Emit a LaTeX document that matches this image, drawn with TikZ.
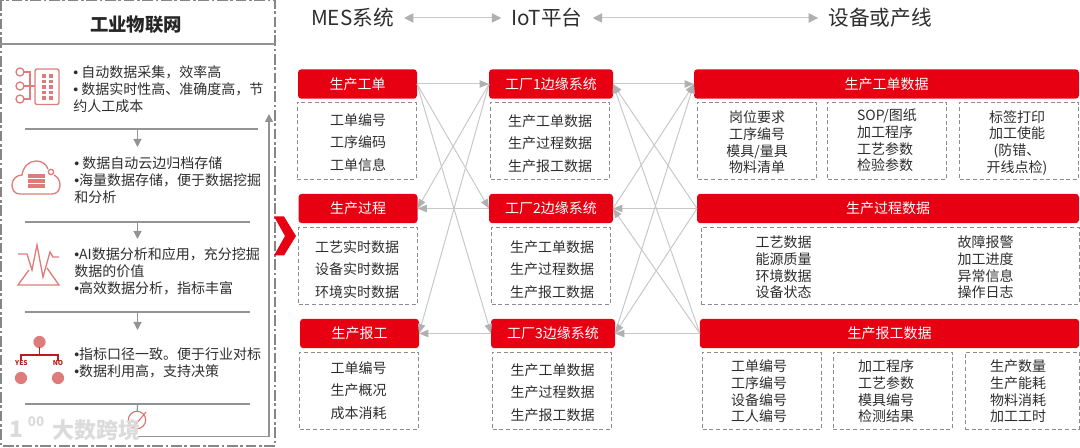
\documentclass[tikz,border=0pt]{standalone}
\usepackage{xcolor}
\usepackage{fontspec}
\setmainfont{Noto Sans CJK SC}
\newfontfamily\bulletfont{Liberation Sans}
\newcommand{\dotmark}{{\bulletfont •}}
\usepackage{tikz}
\usetikzlibrary{arrows.meta,positioning,calc}
\definecolor{headred}{HTML}{E60012}
\definecolor{iconred}{HTML}{DE7C7C}
\definecolor{treered}{HTML}{B81C1C}
\definecolor{linkgray}{HTML}{C8C8C8}
\definecolor{tipgray}{HTML}{B0B0B0}
\definecolor{inkgray}{HTML}{2E2E2E}
\begin{document}
\begin{tikzpicture}[
    x=0.75pt, y=-0.75pt,
    top label/.style={font=\fontsize{15.5}{18}\selectfont, text=inkgray, inner xsep=7.5pt, inner ysep=0pt},
    top arrow/.style={{Triangle[length=7pt,width=7pt,color=tipgray]}-{Triangle[length=7pt,width=7pt,color=tipgray]}, linkgray, line width=0.75pt},
    red head/.style={rectangle, rounded corners=2.5pt, fill=headred, text=white, inner sep=0pt, outer sep=0pt, minimum height=22pt, font=\fontsize{10.5}{12}\selectfont},
    mes head/.style={red head, minimum width=89.25pt},
    iot head/.style={red head, minimum width=93pt},
    data box/.style={rectangle, draw=gray!90, densely dashed, line width=0.5pt, inner sep=0pt, outer sep=0pt, minimum width=89.25pt, minimum height=57.75pt},
    wide rows/.style={align=center, text=inkgray, inner sep=0pt, font=\fontsize{10.5}{16.9}\selectfont},
    tight rows/.style={align=center, text=inkgray, inner sep=0pt, font=\fontsize{10.5}{12.5}\selectfont},
    panel text/.style={anchor=west, align=left, text=inkgray, inner sep=0pt, font=\fontsize{10.5}{12.75}\selectfont},
    link/.style={-{Triangle[length=7pt,width=5.5pt,color=tipgray]}, linkgray, line width=0.75pt},
    sep line/.style={draw=gray!85, line width=0.9pt},
    flow arrow/.style={-{Triangle[length=6pt,width=6pt]}, gray!85, line width=0.9pt},
    icon/.style={draw=iconred, line width=1pt},
    mark text/.style={text=gray!28, inner sep=0pt}
]
    \useasboundingbox (0,0) rectangle (1080,448);

    % Left panel frame and title
    \draw[gray!95, line width=0.8pt, dash pattern=on 8pt off 2pt on 2pt off 2pt] (1,0) rectangle (275,446);
    \draw[gray!85, line width=0.8pt] (0,44) -- (275,44);
    \node[font=\fontsize{13.8}{16}\selectfont\bfseries, text=black!85] (paneltitle) at (136,25) {工业物联网};

    % Left panel texts
    \node[panel text] (text1) at (73,89) {\dotmark{} 自动数据采集，效率高\\\dotmark{} 数据实时性高、准确度高，节\\约人工成本};
    \node[panel text] (text2) at (74,180) {\dotmark{} 数据自动云边归档存储\\\dotmark{}海量数据存储，便于数据挖掘\\和分析};
    \node[panel text] (text3) at (74,271) {\dotmark{}AI数据分析和应用，充分挖掘\\数据的价值\\\dotmark{}高效数据分析，指标丰富};
    \node[panel text] (text4) at (74,363) {\dotmark{}指标口径一致。便于行业对标\\\dotmark{}数据利用高，支持决策};

    % Separators and flow arrows
    \draw[sep line] (25,129) -- (258,129);
    \draw[sep line] (25,222) -- (250,222);
    \draw[sep line] (25,312) -- (250,312);
    \draw[sep line] (25,404) -- (250,404);
    \coordinate (sep1) at (137.5,129);
    \coordinate (sep2) at (137.5,222);
    \coordinate (sep3) at (137.5,312);
    \coordinate (sep4) at (137.5,404);
    \coordinate (end1) at (137.5,147);
    \coordinate (end2) at (137.5,239);
    \coordinate (end3) at (137.5,330);
    \draw[flow arrow] (sep1) -- (end1);
    \draw[flow arrow] (sep2) -- (end2);
    \draw[flow arrow] (sep3) -- (end3);

    % Check mark at the end of the flow
    \node[circle, draw=iconred!85!red, line width=0.8pt, minimum size=13pt, inner sep=0pt] (check) at (137,420) {};
    \draw[iconred!85!red, line width=0.8pt] (131,420) -- (136,424) -- (146,412);
    \draw[sep line] (sep4) -- (check);
    \coordinate (loopfoot) at (137.5,436.5);
    \coordinate (loopcorner) at (269,436.5);
    \coordinate (looptop) at (269,114);
    \draw[flow arrow, line width=1.2pt] (loopfoot) -- (loopcorner) -- (looptop);

    % Icon: data collection
    \draw[icon, rounded corners=1.5pt] (35,69) rectangle (59,104.5);
    \draw[icon] (20,72) circle (3pt);
    \draw[icon] (20,86) circle (3pt);
    \draw[icon] (20,99) circle (3pt);
    \draw[icon] (24,72) -- (30,72) -- (30,99) -- (24,99);
    \draw[icon] (24,86) -- (35,86);
    \foreach \rowy in {76,81.5,87,92.5,98} {
        \fill[iconred] (42,\rowy-1.8) rectangle ++(4,3.6);
        \fill[iconred] (49,\rowy-1.8) rectangle ++(4,3.6);
    }

    % Icon: cloud storage
    \draw[icon] (20,194) .. controls (14,194) and (12,189) .. (12,185) .. controls (12,179) and (17,175) .. (22,175)
        .. controls (23,167) and (29,161) .. (36,161) .. controls (42,161) and (46,164) .. (48,169);
    \draw[icon] (54,175) .. controls (58,177) and (60,181) .. (60,185) .. controls (60,191) and (56,194) .. (52,194) -- (20,194);
    \draw[icon] (51,172) circle (2pt);
    \fill[iconred] (28,174) rectangle (45,178);
    \fill[iconred] (28,179) rectangle (45,183);
    \fill[iconred] (28,184.5) rectangle (45,188);

    % Icon: analysis
    \draw[icon] (18,254) -- (27,254) -- (32,270) -- (37,245) -- (43,277) -- (50,252) -- (53,257) -- (59,257);
    \draw[icon] (29,270) -- (18,285) -- (59,285) -- (47,268);

    % Icon: decision tree
    \fill[iconred] (39.5,342) circle (4.6pt);
    \fill[iconred] (21,378) circle (4.6pt);
    \fill[iconred] (58,378) circle (4.6pt);
    \draw[treered, line width=1.4pt] (39.5,347) -- (39.5,355);
    \draw[treered, line width=1.4pt] (21,361) -- (21,355) -- (58,355) -- (58,361);
    \node[font=\fontsize{5}{6}\selectfont\bfseries, text=treered, inner sep=0pt] (yes) at (21.5,363.5) {YES};
    \node[font=\fontsize{5}{6}\selectfont\bfseries, text=treered, inner sep=0pt] (no) at (58,363.5) {NO};

    % Chevron between panel and columns
    \fill[headred] (274,216.5) -- (284,216.5) -- (296,236) -- (284,255.5) -- (274,255.5) -- (285,236) -- cycle;

    % Column titles
    \node[top label] (mestitle) at (352.5,18) {MES系统};
    \node[top label] (iottitle) at (547,18) {IoT平台};
    \node[top label] (devtitle) at (880,18) {设备或产线};
    \draw[top arrow] (mestitle) -- (iottitle);
    \draw[top arrow] (iottitle) -- (devtitle);

    % MES column
    \node[mes head] (mes1) at (357.5,84) {生产工单};
    \node[mes head] (mes2) at (358,208.5) {生产过程};
    \node[mes head] (mes3) at (359.5,333.5) {生产报工};
    \node[data box] (mesbox1) at (356.5,140.5) {};
    \node[data box] (mesbox2) at (358,266) {};
    \node[data box] (mesbox3) at (359,390.5) {};
    \node[wide rows] (mestext1) at (358,142.5) {工单编号\\工序编码\\工单信息};
    \node[wide rows] (mestext2) at (357,269.5) {工艺实时数据\\设备实时数据\\环境实时数据};
    \node[wide rows] (mestext3) at (358.5,390.5) {工单编号\\生产概况\\成本消耗};

    % IoT column
    \node[iot head] (iot1) at (551,84) {工厂1边缘系统};
    \node[iot head] (iot2) at (551,208.5) {工厂2边缘系统};
    \node[iot head] (iot3) at (553,333.5) {工厂3边缘系统};
    \node[data box] (iotbox1) at (550,140.5) {};
    \node[data box] (iotbox2) at (551,266) {};
    \node[data box] (iotbox3) at (552,390.5) {};
    \node[wide rows] (iottext1) at (550,143.5) {生产工单数据\\生产过程数据\\生产报工数据};
    \node[wide rows] (iottext2) at (552,269.5) {生产工单数据\\生产过程数据\\生产报工数据};
    \node[wide rows] (iottext3) at (552.5,392.5) {生产工单数据\\生产过程数据\\生产报工数据};

    % Device column
    \node[red head, minimum width=288.75pt] (dev1) at (886.5,84) {生产工单数据};
    \node[red head, minimum width=286.5pt] (dev2) at (888,208.5) {生产过程数据};
    \node[red head, minimum width=284.5pt] (dev3) at (889.5,333.5) {生产报工数据};

    \node[data box] (devbox1) at (757,140.5) {};
    \node[data box] (devbox2) at (887,140.5) {};
    \node[data box] (devbox3) at (1019,140.5) {};
    \node[tight rows] (devtext1) at (757,142.5) {岗位要求\\工序编号\\模具/量具\\物料清单};
    \node[tight rows, align=left] (devtext2) at (887,140.5) {SOP/图纸\\加工程序\\工艺参数\\检验参数};
    \node[tight rows] (devtext3) at (1017,142.5) {标签打印\\加工使能\\(防错、\\开线点检)};

    \node[data box, minimum width=283.5pt] (devbox4) at (890,266) {};
    \node[tight rows, align=left] (devtext4a) at (783.5,267.5) {工艺数据\\能源质量\\环境数据\\设备状态};
    \node[tight rows, align=left] (devtext4b) at (985.5,267.5) {故障报警\\加工进度\\异常信息\\操作日志};

    \node[data box] (devbox5) at (762,390.5) {};
    \node[data box] (devbox6) at (892.5,390.5) {};
    \node[data box, minimum width=85.5pt] (devbox7) at (1022,390.5) {};
    \node[tight rows] (devtext5) at (759,391.5) {工单编号\\工序编号\\设备编号\\工人编号};
    \node[tight rows] (devtext6) at (886,391.5) {加工程序\\工艺参数\\模具编号\\检测结果};
    \node[tight rows] (devtext7) at (1018,391.5) {生产数量\\生产能耗\\物料消耗\\加工工时};

    % Links MES - IoT
    \draw[link] (mes1.east) -- (iot1.west);
    \draw[link] (mes1.east) -- (iot2.west);
    \draw[link] (mes1.east) -- (iot3.west);
    \draw[link] (iot1.west) -- (mes2.east);
    \draw[link] (iot1.west) -- (mes3.east);
    \draw[link] (iot2.west) -- (mes2.east);
    \draw[link] (iot3.west) -- (mes3.east);

    % Links IoT - devices
    \draw[link] (iot1.east) -- (dev1.west);
    \draw[link] (iot2.east) -- (dev1.west);
    \draw[link] (iot3.east) -- (dev1.west);
    \draw[link] (dev2.west) -- (iot1.east);
    \draw[link] (dev2.west) -- (iot2.east);
    \draw[link] (dev2.west) -- (iot3.east);
    \draw[link] (dev3.west) -- (iot1.east);
    \draw[link] (dev3.west) -- (iot2.east);
    \draw[link] (dev3.west) -- (iot3.east);

    % Watermark
    \node[mark text, font=\fontsize{16.5}{18}\selectfont\bfseries] (markname) at (96,430) {大数跨境};
    \node[mark text, font=\fontsize{17}{18}\selectfont\bfseries] (markone) at (16,429) {1};
    \node[mark text, font=\fontsize{10}{11}\selectfont\bfseries] (markzero) at (36,421.5) {00};
\end{tikzpicture}
\end{document}
